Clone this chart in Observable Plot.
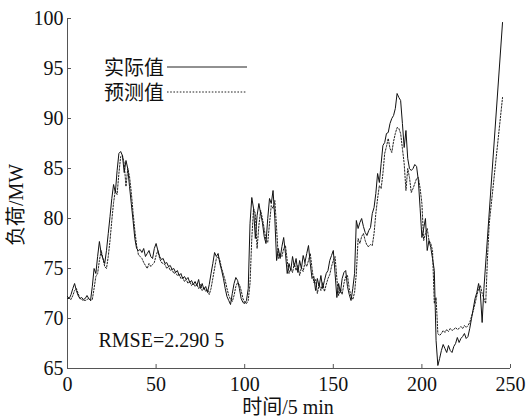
<!DOCTYPE html>
<html>
<head>
<meta charset="utf-8">
<script src="https://cdn.jsdelivr.net/npm/d3@7"></script>
<script src="https://cdn.jsdelivr.net/npm/@observablehq/plot@0.6"></script>
<style>
  html, body { margin: 0; padding: 0; background: #fff; }
  #chart svg { display: block; }
</style>
</head>
<body>
<div id="chart"></div>
<script>
// Actual load, one value per 5-min step starting at t = 0
const actualMain = [
  72.2, 72.0, 72.4, 73.0, 73.5, 72.8, 72.3, 72.0, 72.1, 71.9,
  72.0, 72.3, 72.0, 71.8, 73.2, 75.0, 74.5, 76.2, 77.7, 76.5,
  76.0, 75.5, 76.8, 78.5, 80.2, 82.0, 83.4, 82.6, 84.8, 86.5,
  86.7, 86.3, 84.6, 85.8, 85.0, 83.2, 81.5, 79.8, 78.0, 77.0,
  76.8, 76.9, 76.6, 77.0, 76.2, 76.5, 76.8, 76.2, 76.0, 77.0,
  77.5, 76.8, 76.2, 75.9, 76.0, 75.5, 75.6, 75.2, 75.3, 74.9,
  75.0, 74.6, 74.8, 74.3, 74.5, 74.0, 74.2, 73.9, 74.1, 73.6,
  73.8, 73.4, 73.7, 73.3, 73.9, 73.0, 73.5, 72.9, 73.2, 72.6,
  73.4, 74.5, 75.5, 76.6, 76.2, 76.5, 75.5, 74.8, 74.0, 73.0,
  72.2, 71.8, 71.4, 72.5, 73.5, 74.1, 73.8, 73.0, 72.0, 71.6,
  71.5, 71.8, 73.0, 79.5, 82.1, 81.0, 78.0, 80.3, 81.5, 80.5,
  79.6, 78.2, 77.5, 80.0, 82.0, 81.5, 82.8, 80.0, 75.8, 77.0,
  76.0, 77.2, 78.1, 76.5, 74.5, 75.5, 74.8, 76.2, 75.2, 76.0,
  74.6, 75.8, 75.0, 76.3, 75.6, 76.5, 77.3, 75.5, 74.0, 74.2,
  72.8, 74.0, 73.2, 74.3, 73.0, 73.8, 74.5, 74.8, 75.8, 76.3,
  76.8, 74.5, 72.1, 73.5, 72.6, 74.0, 74.6, 74.8, 73.2, 72.4,
  71.8, 73.0, 74.5, 79.8, 79.0, 79.6, 80.0, 79.2, 78.6, 78.3,
  78.8, 79.1, 80.5, 81.1, 82.5, 84.5, 83.6, 85.5, 87.3, 87.6,
  88.5, 88.6, 89.5, 90.0, 90.3, 91.0, 92.5, 92.1, 91.8, 89.5,
  87.1, 88.8, 86.0, 85.0, 84.8, 85.0, 85.4, 85.2, 83.8, 81.0,
  78.1, 79.0, 80.0, 76.8, 77.8, 77.1, 76.0, 74.8, 67.8, 65.3,
  66.0, 66.8, 67.4, 67.0, 66.6, 67.3, 66.8, 66.6, 67.2, 67.5,
  68.1, 67.6, 68.0, 68.2, 68.5, 68.0, 68.2, 69.0, 70.0, 71.0,
  72.0, 72.6, 73.5, 72.5, 69.6, 73.0
];
const actualTailTime = [245.5];
const actualTailValue = [99.6];

// Predicted load, same steps
const predMain = [
  72.0, 72.0, 71.9, 72.3, 72.8, 73.0, 72.5, 72.0, 71.9, 71.8,
  71.8, 71.9, 72.0, 71.8, 71.9, 73.0, 74.2, 74.5, 75.8, 76.8,
  76.0, 75.2, 75.0, 76.2, 77.8, 79.8, 81.6, 82.8, 82.4, 84.5,
  86.2, 86.3, 85.5, 83.2, 85.0, 84.2, 82.6, 80.6, 78.8, 77.3,
  76.4, 76.2, 76.0, 75.6, 75.3, 75.0, 75.5, 75.2, 75.4, 75.6,
  76.3, 76.8, 76.0, 75.6, 75.5, 75.4, 75.0, 75.2, 74.8, 74.9,
  74.5, 74.6, 74.3, 74.4, 74.0, 74.1, 73.7, 73.9, 73.5, 73.7,
  73.3, 73.5, 73.2, 73.4, 73.0, 73.4, 72.8, 73.1, 72.7, 72.9,
  72.4, 73.0, 74.0, 75.0, 76.0, 76.2, 75.8, 75.0, 74.4, 73.8,
  73.0, 72.3, 71.9, 71.7, 72.3, 73.2, 73.6, 73.4, 72.8, 72.0,
  71.6, 71.5, 71.8, 73.5, 78.0, 81.0, 80.5, 77.0, 79.3, 80.8,
  80.0, 79.0, 77.8, 77.6, 79.5, 81.3, 81.0, 81.8, 79.0, 76.0,
  76.5, 76.2, 77.0, 77.3, 75.8, 74.5, 75.0, 74.6, 75.5, 74.8,
  75.3, 74.3, 75.1, 74.7, 75.6, 75.2, 75.8, 76.5, 75.0, 73.6,
  73.9, 72.5, 73.4, 72.8, 73.6, 72.7, 73.4, 74.0, 74.4, 75.2,
  75.8, 76.2, 74.0, 72.3, 73.0, 72.4, 73.5, 74.2, 74.3, 73.0,
  72.2, 71.9, 72.6, 74.5, 78.0, 77.5, 78.2, 78.5, 77.8, 77.3,
  77.2, 77.4, 77.3, 78.5, 80.5, 82.0, 83.3, 83.0, 84.5, 86.5,
  87.2, 88.0, 87.0, 86.6, 87.7, 88.5, 89.1, 89.0, 88.5, 87.0,
  85.5, 82.8, 85.0, 84.1, 82.6, 83.0, 83.5, 84.0, 84.1, 83.0,
  81.5, 77.8, 78.5, 79.0, 77.8, 77.5, 76.8, 71.5, 72.1, 68.5,
  68.3, 68.5, 68.8, 68.6, 68.9, 68.7, 69.0, 68.8, 68.9, 69.1,
  68.9, 69.0, 69.2, 69.0, 69.3, 69.1, 69.3, 69.6, 70.2, 70.8,
  71.5, 72.3, 73.0, 73.3, 72.5, 72.0, 71.5
];
const predTailTime = [237, 238, 245.5];
const predTailValue = [76.0, 79.5, 92.1];

const xTicks = [0, 50, 100, 150, 200, 250];
const yTicks = [65, 70, 75, 80, 85, 90, 95, 100];
const xLabel = "时间/5 min";
const yLabel = "负荷/MW";
const seriesNames = ["实际值", "预测值"];
const rmseLabel = "RMSE=2.290 5";

const actual = actualMain.map((v, i) => ({t: i, v}))
  .concat(actualTailTime.map((t, i) => ({t, v: actualTailValue[i]})));
const pred = predMain.map((v, i) => ({t: i, v}))
  .concat(predTailTime.map((t, i) => ({t, v: predTailValue[i]})));

const W = 530, H = 418;
const mL = 67, mR = 20, mT = 18, mB = 50;
const serif = "'Liberation Serif', 'Noto Sans CJK SC', serif";
const axisColor = "#555";

const svg = Plot.plot({
  width: W,
  height: H,
  marginLeft: mL,
  marginRight: mR,
  marginTop: mT,
  marginBottom: mB,
  style: {fontFamily: serif, fontSize: "20px", background: "#fff", color: "#111"},
  x: {domain: [0, 250]},
  y: {domain: [65, 100]},
  marks: [
    Plot.axisX({ticks: xTicks, tickSize: 0, tickPadding: 8, tickFormat: d => String(d), label: null, fontSize: 20}),
    Plot.axisY({ticks: yTicks, tickSize: 0, tickPadding: 4, tickFormat: d => String(d), label: null, fontSize: 20}),
    Plot.tickX(xTicks, {x: d => d, stroke: axisColor, insetTop: H - mT - mB - 4}),
    Plot.tickY(yTicks, {y: d => d, stroke: axisColor, insetRight: W - mL - mR - 4}),
    Plot.ruleX([0], {stroke: axisColor}),
    Plot.ruleY([65], {stroke: axisColor}),
    Plot.line(pred, {x: "t", y: "v", stroke: "#222", strokeWidth: 1, strokeDasharray: "1.6,1.6"}),
    Plot.line(actual, {x: "t", y: "v", stroke: "#111", strokeWidth: 1}),
    Plot.text([rmseLabel], {text: d => d, frameAnchor: "bottom-left", dx: 31, dy: -28, textAnchor: "start", lineAnchor: "middle", fontSize: 20, fill: "#111"})
  ]
});

const root = d3.select(svg);
// axis titles
root.append("text")
  .attr("x", 288).attr("y", 414)
  .attr("text-anchor", "middle")
  .attr("font-family", serif).attr("font-size", 20).attr("fill", "#111")
  .text(xLabel);
root.append("text")
  .attr("transform", "translate(23,205) rotate(-90)")
  .attr("text-anchor", "middle")
  .attr("font-family", serif).attr("font-size", 20).attr("fill", "#111")
  .text(yLabel);

// legend
const lg = root.append("g");
const rows = [{y: 68, dash: null}, {y: 93, dash: "1.6,1.6"}];
seriesNames.forEach((name, i) => {
  lg.append("text")
    .attr("x", 164).attr("y", rows[i].y)
    .attr("dy", "0.36em")
    .attr("text-anchor", "end")
    .attr("font-family", serif).attr("font-size", 20).attr("fill", "#111")
    .text(name);
  const ln = lg.append("line")
    .attr("x1", 167).attr("x2", 247)
    .attr("y1", rows[i].y - 1).attr("y2", rows[i].y - 1)
    .attr("stroke", "#222").attr("stroke-width", 1);
  if (rows[i].dash) ln.attr("stroke-dasharray", rows[i].dash);
});

document.getElementById("chart").appendChild(svg);
</script>
</body>
</html>
